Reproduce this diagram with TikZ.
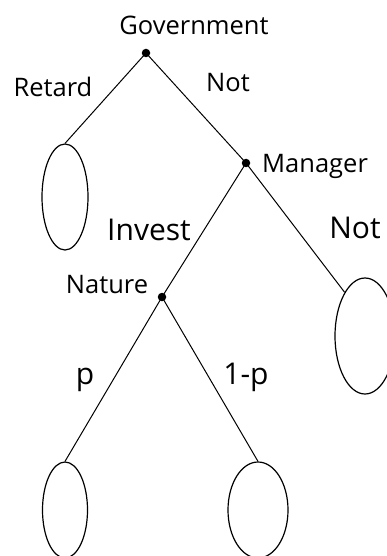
\documentclass[tikz,border=0pt]{standalone}
\usepackage{fontspec}
\setmainfont{Open Sans}
\usetikzlibrary{shapes.geometric}
\tikzset{
  dot/.style={circle,fill=black,inner sep=0pt,minimum size=8.5pt},
  leaf/.style={ellipse,draw=black,line width=1.2pt,inner sep=0pt},
  edge/.style={draw=black,line width=1pt},
  lbl/.style={anchor=base,inner sep=0pt,font=\fontsize{25.5}{30}\selectfont},
  biglbl/.style={anchor=base,inner sep=0pt,font=\fontsize{30}{34}\selectfont}
}
\begin{document}
\begin{tikzpicture}[x=1pt,y=-1pt]
\useasboundingbox (0,0) rectangle (387,556);
% decision nodes
\node[dot] (g) at (146,53) {};
\node[dot] (m) at (246,163) {};
\node[dot] (n) at (162,297) {};
% leaves
\node[leaf,minimum width=46pt,minimum height=106pt] (l1) at (65,197) {};
\node[leaf,minimum width=60pt,minimum height=116pt] (l2) at (365,336) {};
\node[leaf,minimum width=45pt,minimum height=96pt] (l3) at (65,510) {};
\node[leaf,minimum width=60pt,minimum height=96pt] (l4) at (258,510) {};
% edges
\draw[edge] (g.center) -- (l1.north);
\draw[edge] (g.center) -- (m.center);
\draw[edge] (m.center) -- (n.center);
\draw[edge] (m.center) -- (l2.115);
\draw[edge] (n.center) -- (l3.north);
\draw[edge] (n.center) -- (l4.north);
% labels
\node[lbl] (tg) at (194,35) {Government};
\node[lbl] (tr) at (53,97) {Retard};
\node[lbl] (tn1) at (228,92) {Not};
\node[lbl,anchor=base west] (tm) at (262,172) {Manager};
\node[biglbl] (ti) at (149,240) {Invest};
\node[biglbl] (tn2) at (355,238) {Not};
\node[lbl] (tna) at (107,293) {Nature};
\node[biglbl] (tp) at (85,384) {p};
\node[biglbl] (tq) at (246,384) {1-p};
\end{tikzpicture}
\end{document}
